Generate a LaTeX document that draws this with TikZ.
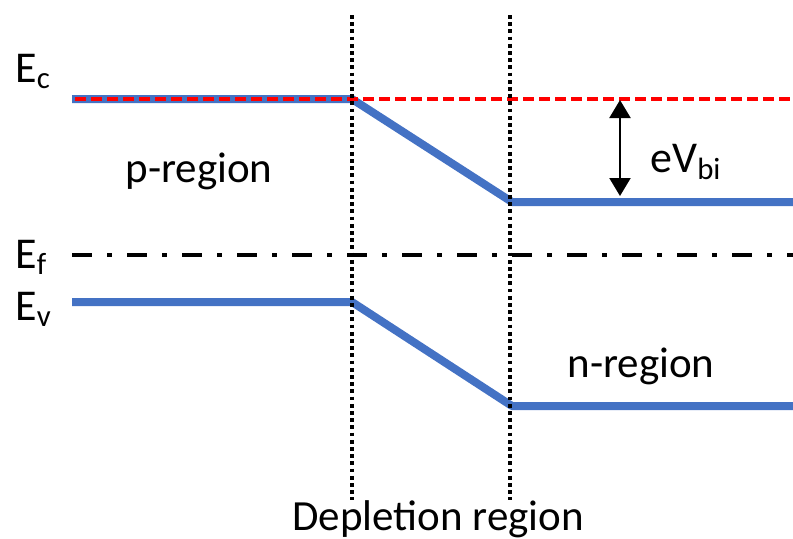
\documentclass[tikz,border=0pt]{standalone}
\usepackage{fontspec}
\setmainfont{Carlito}
\usetikzlibrary{arrows.meta}
\definecolor{bandblue}{HTML}{4472C4}

\begin{document}
\begin{tikzpicture}[
  x=0.5pt, y=-0.5pt, >={Triangle[length=9pt, width=10.5pt]},
  every node/.style={font=\fontsize{21.5}{25}\selectfont, inner sep=0pt},
  lvl/.style={font=\fontsize{22}{26}\selectfont, anchor=base west},
  band/.style={line width=4pt, bandblue, line join=round},
  vac/.style={line width=1.8pt, red, dash pattern=on 5.5pt off 2.5pt},
  fermi/.style={line width=2pt, dash pattern=on 10pt off 7.5pt on 2.5pt off 7.5pt},
  edge/.style={line width=2pt, dash pattern=on 1.9pt off 1.7pt},
]
\useasboundingbox (0, 0) rectangle (793, 538);

% band corners
\coordinate (c0) at (72, 99);
\coordinate (c1) at (352, 99);
\coordinate (c2) at (512, 202);
\coordinate (c3) at (793, 202);
\coordinate (v0) at (72, 302);
\coordinate (v1) at (352, 302);
\coordinate (v2) at (512, 406);
\coordinate (v3) at (793, 406);
\coordinate (r0) at (75, 99);
\coordinate (r1) at (793, 99);
\coordinate (f0) at (72, 255);
\coordinate (f1) at (793, 255);

\draw[band] (c0) -- (c1) -- (c2) -- (c3);
\draw[band] (v0) -- (v1) -- (v2) -- (v3);
\draw[vac] (r0) -- (r1);
\draw[fermi] (f0) -- (f1);

% depletion edges
\coordinate (d0) at (352, 15);
\coordinate (d1) at (352, 500);
\coordinate (e0) at (510, 15);
\coordinate (e1) at (510, 500);
\draw[edge] (d0) -- (d1);
\draw[edge] (e0) -- (e1);

% built-in potential
\coordinate (a0) at (620, 100);
\coordinate (a1) at (620, 196);
\draw[<->, line width=1.1pt] (a0) -- (a1);

\node[lvl] (Ec) at (15, 82) {E\textsubscript{c}};
\node[lvl] (Ef) at (15, 268) {E\textsubscript{f}};
\node[lvl] (Ev) at (15, 320) {E\textsubscript{v}};
\node[anchor=base] (preg) at (199, 182) {p-region};
\node[anchor=base] (nreg) at (641, 377) {n-region};
\node[lvl] (vbi) at (650, 172) {eV\textsubscript{bi}};
\node[anchor=base] (dep) at (438, 530) {Depletion region};
\end{tikzpicture}
\end{document}
